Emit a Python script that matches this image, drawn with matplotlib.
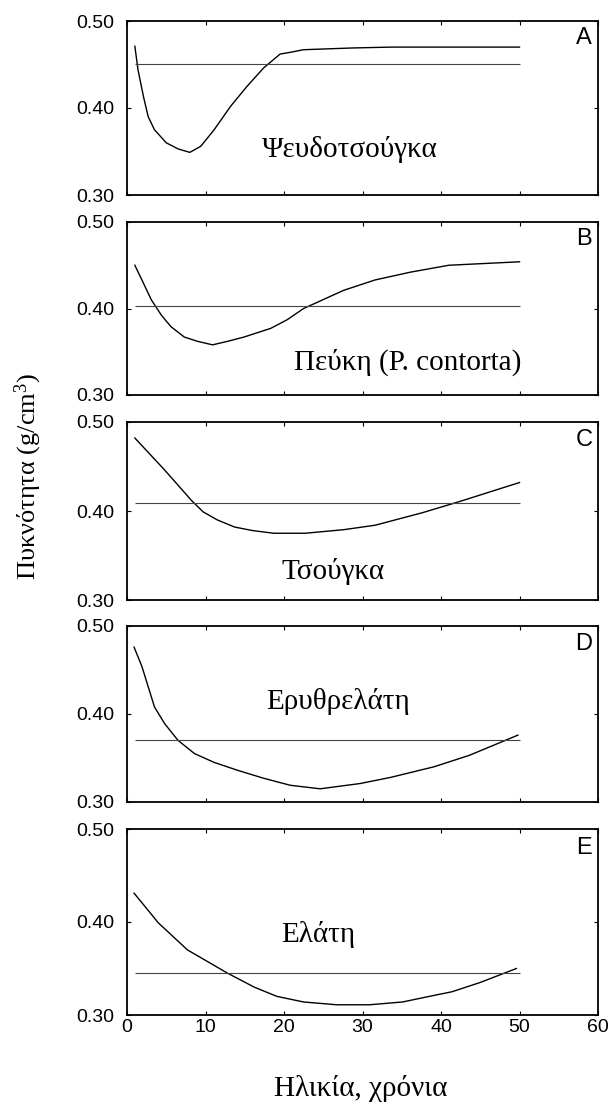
import matplotlib
matplotlib.use("Agg")
import matplotlib.pyplot as plt

plt.rcParams["mathtext.fontset"] = "custom"
plt.rcParams["mathtext.rm"] = "Liberation Serif"
plt.rcParams["mathtext.it"] = "Liberation Serif:italic"

# ---- data ----
age_A = [1.0, 1.4, 2.1, 2.7, 3.5, 5.0, 6.5, 8.0, 9.4, 11.1, 13.2, 15.3, 17.4, 19.5, 20.8, 22.5, 28.7, 33.7, 50]
dens_A = [0.471, 0.444, 0.413, 0.390, 0.375, 0.360, 0.353, 0.349, 0.356, 0.375, 0.402, 0.425, 0.446, 0.462, 0.464, 0.467, 0.469, 0.470, 0.470]
mean_A = 0.451

age_B = [1.0, 1.9, 3.1, 4.4, 5.6, 7.3, 9.0, 10.9, 12.8, 14.9, 18.3, 20.4, 22.5, 27.6, 31.6, 36.1, 41, 50]
dens_B = [0.450, 0.433, 0.410, 0.392, 0.379, 0.367, 0.362, 0.358, 0.362, 0.367, 0.377, 0.387, 0.400, 0.421, 0.433, 0.442, 0.450, 0.454]
mean_B = 0.403

age_C = [1, 4.8, 8.2, 9.7, 11.5, 13.7, 16.0, 18.7, 22.7, 27.6, 31.6, 37.6, 42.5, 50]
dens_C = [0.482, 0.446, 0.412, 0.399, 0.390, 0.382, 0.378, 0.375, 0.375, 0.379, 0.384, 0.398, 0.411, 0.432]
mean_C = 0.409

age_D = [0.9, 1.9, 2.7, 3.5, 4.8, 6.5, 8.6, 11.1, 14.1, 17.4, 20.8, 24.6, 29.7, 33.6, 39.1, 43.6, 49.8]
dens_D = [0.476, 0.454, 0.431, 0.408, 0.389, 0.370, 0.355, 0.345, 0.336, 0.327, 0.319, 0.315, 0.321, 0.328, 0.340, 0.353, 0.376]
mean_D = 0.370

age_E = [0.9, 4.0, 7.7, 12.8, 16.2, 19.1, 22.5, 26.7, 30.9, 35.1, 38.5, 41.4, 45.0, 49.6]
dens_E = [0.431, 0.399, 0.370, 0.345, 0.330, 0.320, 0.314, 0.311, 0.311, 0.314, 0.320, 0.325, 0.335, 0.350]
mean_E = 0.345

letters = ["A", "B", "C", "D", "E"]
species = ["Ψευδοτσούγκα", "Πεύκη (P. contorta)", "Τσούγκα", "Ερυθρελάτη", "Ελάτη"]
label_pos = [(28.4, 0.352), (35.7, 0.338), (26.3, 0.332), (26.9, 0.414), (24.3, 0.387)]
yticks = [0.30, 0.40, 0.50]
ytick_labels = ["0.30", "0.40", "0.50"]
xticks = [0, 10, 20, 30, 40, 50, 60]

ages = [age_A, age_B, age_C, age_D, age_E]
dens = [dens_A, dens_B, dens_C, dens_D, dens_E]
means = [mean_A, mean_B, mean_C, mean_D, mean_E]

# ---- layout ----
W, H = 616, 1110
fig = plt.figure(figsize=(W / 100, H / 100), dpi=100)
left_px, right_px = 127, 598
boxes = [(21, 195), (222, 395), (422, 600), (626, 802), (829, 1015)]

sans = "Liberation Sans"
serif = "Liberation Serif"

for i, (top, bot) in enumerate(boxes):
    ax = fig.add_axes([left_px / W, 1 - bot / H, (right_px - left_px) / W, (bot - top) / H])
    ax.plot(ages[i], dens[i], color="black", lw=1.0)
    ax.hlines(means[i], 1, 50, color="#444444", lw=0.8)
    ax.set_xlim(0, 60)
    ax.set_ylim(0.30, 0.50)
    ax.set_yticks(yticks)
    ax.set_yticklabels(ytick_labels, fontfamily=sans, fontsize=14)
    ax.set_xticks(xticks)
    if i == 4:
        ax.set_xticklabels([str(t) for t in xticks], fontfamily=sans, fontsize=14)
    else:
        ax.set_xticklabels([])
    ax.tick_params(direction="in", length=3, width=0.8, top=True, right=True)
    ax.tick_params(axis="y", pad=9)
    ax.tick_params(axis="x", pad=3)
    for s in ax.spines.values():
        s.set_linewidth(1.3)
    ax.text(0.97, 0.90, letters[i], transform=ax.transAxes, ha="center", va="center",
            fontfamily=sans, fontsize=17)
    ax.text(label_pos[i][0], label_pos[i][1], species[i], ha="center", va="center",
            fontfamily=serif, fontsize=21)

fig.text(28 / W, 1 - 476 / H, "Πυκνότητα (g/cm$^3$)", rotation=90, ha="center", va="center",
         fontfamily=serif, fontsize=19)
fig.text(361 / W, 1 - 1088 / H, "Ηλικία, χρόνια", ha="center", va="center",
         fontfamily=serif, fontsize=21)

fig.savefig("out.png", dpi=100)
